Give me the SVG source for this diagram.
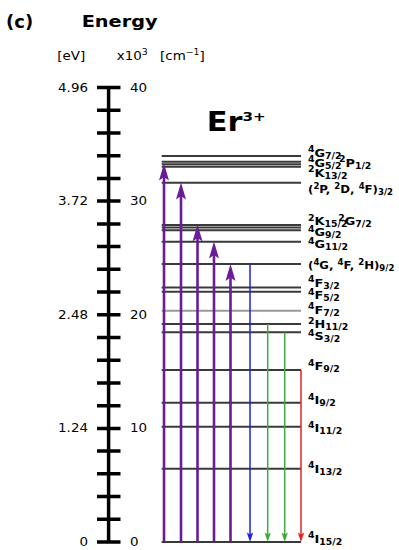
<svg xmlns="http://www.w3.org/2000/svg" width="399" height="550" viewBox="0 0 399 550">
<style>
text { font-family: "DejaVu Sans", Verdana, "Liberation Sans", sans-serif; fill: #000; }
.b { font-weight: bold; }
.lab { font-weight: bold; font-size: 11px; }
.s { font-size: 8px; }
.num { font-size: 11.5px; }
.unit { font-size: 11.5px; }
.lvl { stroke: #3a3a3a; stroke-width: 2; fill: none; }
.lvlg { stroke: #9a9a9a; stroke-width: 2; fill: none; }
.ax { stroke: #000; stroke-width: 3.5; fill: none; }
.up { stroke: #6a1b9a; stroke-width: 2.6; fill: none; }
.hu { fill: #6a1b9a; }
.bl { stroke: #1f1fe0; stroke-width: 1.5; fill: none; }
.hb { fill: #1f1fe0; }
.gr { stroke: #3cab3c; stroke-width: 1.5; fill: none; }
.hg { fill: #3cab3c; }
.rd { stroke: #e52222; stroke-width: 1.5; fill: none; }
.hr { fill: #e52222; }
</style>

<g id="title">
  <text class="b" font-size="18" transform="translate(6 28.3)">(c)</text>
  <text class="b" font-size="16.5" transform="matrix(1.17 0 0 1 81.7 27)">Energy</text>
</g>

<g id="axis">
  <text class="unit" transform="matrix(1.17 0 0 1 57.3 59.5)">[eV]</text>
  <text class="unit" transform="matrix(1.17 0 0 1 116.7 59.5)">x10<tspan font-size="8" dy="-5">3</tspan></text>
  <text class="unit" transform="matrix(1.17 0 0 1 160 59.5)">[cm<tspan font-size="8" dy="-5">−1</tspan><tspan dy="5">]</tspan></text>
  <path class="ax" d="M108.6 87.5V542"/>
  <path class="ax" d="M97 87.5H120.5M97 110.2H120.5M97 133H120.5M97 155.7H120.5M97 178.4H120.5M97 201.1H120.5M97 223.9H120.5M97 246.6H120.5M97 269.3H120.5M97 292H120.5M97 314.8H120.5M97 337.5H120.5M97 360.2H120.5M97 382.9H120.5M97 405.7H120.5M97 428.4H120.5M97 451.1H120.5M97 473.8H120.5M97 496.6H120.5M97 519.3H120.5M97 542H120.5"/>
  <g class="num" text-anchor="end">
    <text transform="matrix(1.17 0 0 1 88 91.5)">4.96</text>
    <text transform="matrix(1.17 0 0 1 88 205.1)">3.72</text>
    <text transform="matrix(1.17 0 0 1 88 318.8)">2.48</text>
    <text transform="matrix(1.17 0 0 1 88 432.4)">1.24</text>
    <text transform="matrix(1.17 0 0 1 88 546)">0</text>
  </g>
  <g class="num">
    <text transform="matrix(1.17 0 0 1 130 91.5)">40</text>
    <text transform="matrix(1.17 0 0 1 130 205.1)">30</text>
    <text transform="matrix(1.17 0 0 1 130 318.8)">20</text>
    <text transform="matrix(1.17 0 0 1 130 432.4)">10</text>
    <text transform="matrix(1.17 0 0 1 130 546)">0</text>
  </g>
</g>

<g id="ion">
  <text class="b" font-size="26" transform="matrix(1.17 0 0 1 206.7 131)">Er<tspan font-size="13" dy="-10">3+</tspan></text>
</g>

<g id="levels">
  <g id="L4G72"><path class="lvl" d="M161.7 156H301"/>
    <text class="lab" transform="matrix(1.17 0 0 1 308 156.5)"><tspan class="s" dy="-4.5">4</tspan><tspan dy="4.5">G</tspan><tspan class="s" dy="2">7/2</tspan></text></g>
  <g id="L4G52_2P12"><path class="lvl" d="M161.7 161.7H301M161.7 164.2H301"/>
    <text class="lab" transform="matrix(1.17 0 0 1 308 166.5)"><tspan class="s" dy="-4.5">4</tspan><tspan dy="4.5">G</tspan><tspan class="s" dy="2">5/2</tspan><tspan class="s" x="26.5" dy="-6.5">2</tspan><tspan dy="4.5">P</tspan><tspan class="s" dy="2">1/2</tspan></text></g>
  <g id="L2K132"><path class="lvl" d="M161.7 166.8H301"/>
    <text class="lab" transform="matrix(1.17 0 0 1 308 176.5)"><tspan class="s" dy="-4.5">2</tspan><tspan dy="4.5">K</tspan><tspan class="s" dy="2">13/2</tspan></text></g>
  <g id="L2P32"><path class="lvl" d="M161.7 182.7H301"/>
    <text class="lab" transform="matrix(1.07 0 0 1 308 193)">(<tspan class="s" dy="-4.5">2</tspan><tspan dy="4.5">P, </tspan><tspan class="s" dy="-4.5">2</tspan><tspan dy="4.5">D, </tspan><tspan class="s" dy="-4.5">4</tspan><tspan dy="4.5">F)</tspan><tspan class="s" dy="2">3/2</tspan></text></g>
  <g id="L2K152_2G72"><path class="lvl" d="M161.7 225H301M161.7 227.5H301"/>
    <text class="lab" transform="matrix(1.17 0 0 1 308 225)"><tspan class="s" dy="-4.5">2</tspan><tspan dy="4.5">K</tspan><tspan class="s" dy="2">15/2</tspan><tspan class="s" x="25.9" dy="-6.5">2</tspan><tspan dy="4.5">G</tspan><tspan class="s" dy="2">7/2</tspan></text></g>
  <g id="L4G92"><path class="lvl" d="M161.7 230.2H301"/>
    <text class="lab" transform="matrix(1.17 0 0 1 308 236)"><tspan class="s" dy="-4.5">4</tspan><tspan dy="4.5">G</tspan><tspan class="s" dy="2">9/2</tspan></text></g>
  <g id="L4G112"><path class="lvl" d="M161.7 241.7H301"/>
    <text class="lab" transform="matrix(1.17 0 0 1 308 248)"><tspan class="s" dy="-4.5">4</tspan><tspan dy="4.5">G</tspan><tspan class="s" dy="2">11/2</tspan></text></g>
  <g id="L4G92b"><path class="lvl" d="M161.7 264H301"/>
    <text class="lab" transform="matrix(1.07 0 0 1 308 269)">(<tspan class="s" dy="-4.5">4</tspan><tspan dy="4.5">G, </tspan><tspan class="s" dy="-4.5">4</tspan><tspan dy="4.5">F, </tspan><tspan class="s" dy="-4.5">2</tspan><tspan dy="4.5">H)</tspan><tspan class="s" dy="2">9/2</tspan></text></g>
  <g id="L4F32"><path class="lvl" d="M161.7 287.4H301"/>
    <text class="lab" transform="matrix(1.17 0 0 1 308 286.7)"><tspan class="s" dy="-4.5">4</tspan><tspan dy="4.5">F</tspan><tspan class="s" dy="2">3/2</tspan></text></g>
  <g id="L4F52"><path class="lvl" d="M161.7 291.7H301"/>
    <text class="lab" transform="matrix(1.17 0 0 1 308 299)"><tspan class="s" dy="-4.5">4</tspan><tspan dy="4.5">F</tspan><tspan class="s" dy="2">5/2</tspan></text></g>
  <g id="L4F72"><path class="lvlg" d="M161.7 310.7H301"/>
    <text class="lab" transform="matrix(1.17 0 0 1 308 313.5)"><tspan class="s" dy="-4.5">4</tspan><tspan dy="4.5">F</tspan><tspan class="s" dy="2">7/2</tspan></text></g>
  <g id="L2H112"><path class="lvl" d="M161.7 324H301"/>
    <text class="lab" transform="matrix(1.17 0 0 1 308 328)"><tspan class="s" dy="-4.5">2</tspan><tspan dy="4.5">H</tspan><tspan class="s" dy="2">11/2</tspan></text></g>
  <g id="L4S32"><path class="lvl" d="M161.7 332.3H301"/>
    <text class="lab" transform="matrix(1.17 0 0 1 308 340)"><tspan class="s" dy="-4.5">4</tspan><tspan dy="4.5">S</tspan><tspan class="s" dy="2">3/2</tspan></text></g>
  <g id="L4F92"><path class="lvl" d="M161.7 370H301"/>
    <text class="lab" transform="matrix(1.17 0 0 1 308 370)"><tspan class="s" dy="-4.5">4</tspan><tspan dy="4.5">F</tspan><tspan class="s" dy="2">9/2</tspan></text></g>
  <g id="L4I92"><path class="lvl" d="M161.7 402.7H301"/>
    <text class="lab" transform="matrix(1.17 0 0 1 308 404)"><tspan class="s" dy="-4.5">4</tspan><tspan dy="4.5">I</tspan><tspan class="s" dy="2">9/2</tspan></text></g>
  <g id="L4I112"><path class="lvl" d="M161.7 426.7H301"/>
    <text class="lab" transform="matrix(1.17 0 0 1 308 432)"><tspan class="s" dy="-4.5">4</tspan><tspan dy="4.5">I</tspan><tspan class="s" dy="2">11/2</tspan></text></g>
  <g id="L4I132"><path class="lvl" d="M161.7 468.7H301"/>
    <text class="lab" transform="matrix(1.17 0 0 1 308 472.5)"><tspan class="s" dy="-4.5">4</tspan><tspan dy="4.5">I</tspan><tspan class="s" dy="2">13/2</tspan></text></g>
  <g id="L4I152"><path class="lvl" d="M161.7 542H301"/>
    <text class="lab" transform="matrix(1.17 0 0 1 308 542.5)"><tspan class="s" dy="-4.5">4</tspan><tspan dy="4.5">I</tspan><tspan class="s" dy="2">15/2</tspan></text></g>
</g>

<g id="connectors">
  <path class="up" d="M164 542V177"/>
  <polygon class="hu" points="164,163.5 159,180.5 164,177 169,180.5"/>
  <path class="up" d="M181 542V196"/>
  <polygon class="hu" points="181,182.5 176,199.5 181,196 186,199.5"/>
  <path class="up" d="M197.5 542V238"/>
  <polygon class="hu" points="197.5,224.5 192.5,241.5 197.5,238 202.5,241.5"/>
  <path class="up" d="M214 542V255"/>
  <polygon class="hu" points="214,241.5 209,258.5 214,255 219,258.5"/>
  <path class="up" d="M230.5 542V277.5"/>
  <polygon class="hu" points="230.5,264 225.5,281 230.5,277.5 235.5,281"/>
  <path class="bl" d="M250 264V536"/>
  <polygon class="hb" points="250,542 246.8,532.5 250,534.5 253.2,532.5"/>
  <path class="gr" d="M267.7 324V536"/>
  <polygon class="hg" points="267.7,542 264.5,532.5 267.7,534.5 270.9,532.5"/>
  <path class="gr" d="M284.7 332.3V536"/>
  <polygon class="hg" points="284.7,542 281.5,532.5 284.7,534.5 287.9,532.5"/>
  <path class="rd" d="M301 370V536"/>
  <polygon class="hr" points="301,542 297.8,532.5 301,534.5 304.2,532.5"/>
</g>
</svg>
